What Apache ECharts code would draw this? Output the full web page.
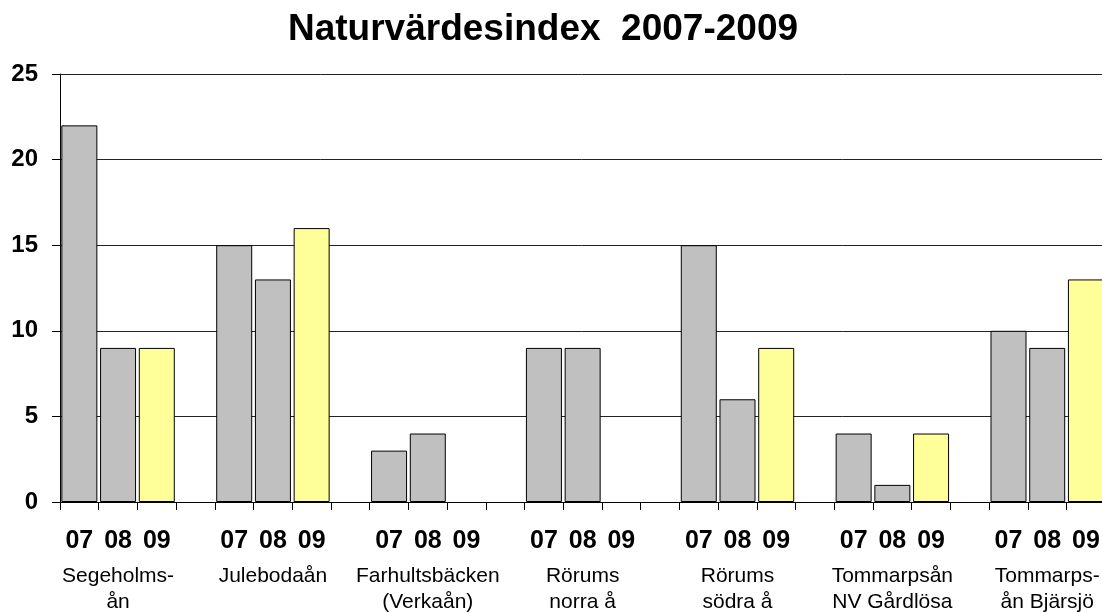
<!DOCTYPE html>
<html>
<head>
<meta charset="utf-8">
<script src="https://cdn.jsdelivr.net/npm/echarts@6/dist/echarts.min.js"></script>
<style>
  html, body { margin: 0; padding: 0; background: #fff; }
  #chart { width: 1102px; height: 612px; }
</style>
</head>
<body>
<div id="chart"></div>
<script>
// data
const sites = [
  'Segeholms-\nån',
  'Julebodaån',
  'Farhultsbäcken\n(Verkaån)',
  'Rörums\nnorra å',
  'Rörums\nsödra å',
  'Tommarpsån\nNV Gårdlösa',
  'Tommarps-\nån Bjärsjö',
];
const years = ['07', '08', '09'];
const values07 = [22, 15, 3, 9, 15, 4, 10];
const values08 = [9, 13, 4, 9, 6, 1, 9];
const values09 = [9, 16, null, null, 9, 4, 13];
const yTicks = [0, 5, 10, 15, 20, 25];

// every site takes 4 slots: 07, 08, 09 and an empty gap
const slots = [];
const yearLabels = [];
const siteLabels = [];
sites.forEach((site, g) => {
  for (let k = 0; k < 4; k++) {
    slots.push(String(g * 4 + k));
    yearLabels.push(k < 3 ? years[k] : '');
    siteLabels.push(k === 1 ? site : '');
  }
});

const spread = (vals, k) => {
  const out = slots.map(() => '-');
  vals.forEach((v, g) => {
    if (v !== null) out[g * 4 + k] = v;
  });
  return out;
};

const font = 'Liberation Sans, Arial, sans-serif';
const barStyle = (color) => ({ color, borderColor: '#000', borderWidth: 1 });

const chart = echarts.init(document.getElementById('chart'));
chart.setOption({
  backgroundColor: '#fff',
  animation: false,
  title: {
    text: 'Naturvärdesindex  2007-2009',
    left: 543,
    textAlign: 'center',
    top: 11,
    padding: 0,
    textStyle: { fontFamily: font, fontWeight: 'bold', fontSize: 37, color: '#000' },
  },
  // plot runs past the right edge, the last gap slot is cut off
  grid: { left: 60, top: 74, width: 1084, height: 428, outerBoundsMode: 'none' },
  xAxis: [
    {
      type: 'category',
      data: slots,
      axisLine: { lineStyle: { color: '#000', width: 1 } },
      axisTick: { show: true, interval: 0, length: 8, lineStyle: { color: '#000' } },
      axisLabel: {
        interval: 0,
        margin: 27,
        fontFamily: font,
        fontWeight: 'bold',
        fontSize: 25,
        color: '#000',
        formatter: (v) => yearLabels[+v],
      },
    },
    {
      type: 'category',
      position: 'bottom',
      data: slots,
      axisLine: { show: false },
      axisTick: { show: false },
      axisLabel: {
        interval: 0,
        margin: 61,
        fontFamily: font,
        fontSize: 21,
        lineHeight: 26,
        color: '#000',
        formatter: (v) => siteLabels[+v],
      },
    },
  ],
  yAxis: {
    type: 'value',
    min: yTicks[0],
    max: yTicks[yTicks.length - 1],
    interval: 5,
    axisLine: { show: true, lineStyle: { color: '#000' } },
    axisTick: { show: true, length: 8, lineStyle: { color: '#000' } },
    splitLine: { lineStyle: { color: '#222', width: 1 } },
    axisLabel: {
      margin: 22,
      fontFamily: font,
      fontWeight: 'bold',
      fontSize: 24,
      color: '#000',
    },
  },
  series: [
    { name: '07', type: 'bar', data: spread(values07, 0), barCategoryGap: '7%', barGap: '-100%', itemStyle: barStyle('#C0C0C0') },
    { name: '08', type: 'bar', data: spread(values08, 1), barGap: '-100%', itemStyle: barStyle('#C0C0C0') },
    { name: '09', type: 'bar', data: spread(values09, 2), barGap: '-100%', itemStyle: barStyle('#FFFF99') },
  ],
});
</script>
</body>
</html>
